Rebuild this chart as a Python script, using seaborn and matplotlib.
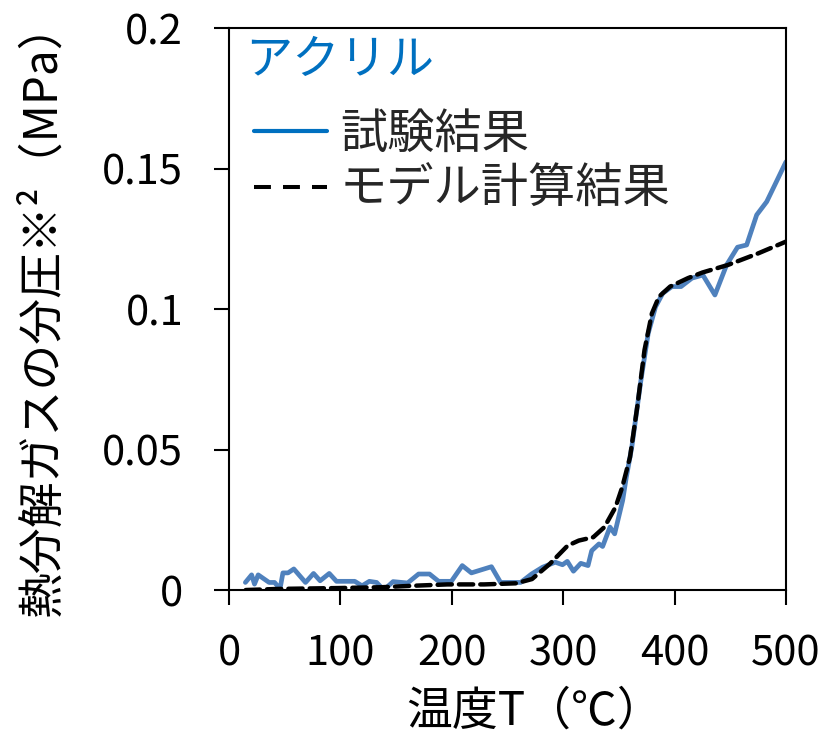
import matplotlib
matplotlib.use("Agg")
import matplotlib.pyplot as plt
from matplotlib.lines import Line2D
import seaborn as sns
import pandas as pd

# Measured partial pressure of pyrolysis gas (acrylic)
temp_test = [14.7, 20.3, 22.9, 26.2, 36, 40.9, 45.8, 48.4, 53, 58.2,
             68.7, 75.9, 81.8, 90, 96.5, 112.9, 119.4, 126, 132.5, 139,
             147.3, 160.3, 170.2, 180, 188.2, 199.6, 209.4, 217.6, 235.6, 243.8,
             261.8, 271.6, 281.4, 292.9, 299.4, 303.7, 309.2, 315.8, 322.3, 325.6,
             332.1, 335.4, 342, 346.2, 353.4, 356.7, 361.6, 369.8, 376.3, 382.9,
             389.4, 397.6, 405.8, 415.6, 425.4, 436.2, 446.7, 456.5, 464.7, 473.7,
             482.7, 491, 500]
p_test = [0.0027, 0.0054, 0.0021, 0.0054, 0.0027, 0.0027, 0.0004, 0.0061, 0.0061, 0.0075,
          0.0027, 0.0059, 0.0033, 0.0059, 0.0031, 0.0031, 0.0015, 0.0031, 0.0027, 0.0,
          0.0030, 0.0025, 0.0057, 0.0057, 0.0031, 0.0031, 0.0087, 0.0061, 0.0083, 0.0027,
          0.0027, 0.0057, 0.0081, 0.0099, 0.0090, 0.0102, 0.0067, 0.0095, 0.0087, 0.0140,
          0.0164, 0.0155, 0.0224, 0.0200, 0.0319, 0.0402, 0.0509, 0.0747, 0.0913, 0.1008,
          0.1056, 0.1080, 0.1080, 0.1110, 0.1121, 0.1050, 0.1157, 0.1220, 0.1228, 0.1335,
          0.1382, 0.1450, 0.1524]

# Model calculation
temp_model = [15, 45, 98, 137, 164, 196, 229, 258, 272, 288,
              304, 314, 327, 337, 347, 353, 360, 366.5, 373, 379.6,
              386, 396, 412, 425, 448, 475, 500]
p_model = [0.0, 0.0004, 0.0007, 0.001, 0.0015, 0.002, 0.002, 0.0024, 0.0039, 0.0093,
           0.0158, 0.0176, 0.0188, 0.0224, 0.0295, 0.0366, 0.0473, 0.0652, 0.0854, 0.0984,
           0.1044, 0.1080, 0.1110, 0.1130, 0.1157, 0.1198, 0.1240]

x_ticks = [0, 100, 200, 300, 400, 500]
y_ticks = [0, 0.05, 0.1, 0.15, 0.2]
y_tick_labels = ["0", "0.05", "0.1", "0.15", "0.2"]

material = "アクリル"
label_test = "試験結果"
label_model = "モデル計算結果"
x_label = "温度T（℃）"
y_label = "熱分解ガスの分圧※²（MPa）"

sns.set_theme(style="white")
plt.rcParams["font.family"] = ["Noto Sans CJK JP", "DejaVu Sans"]

fig = plt.figure(figsize=(8.27, 7.38), dpi=100)
ax = fig.add_axes([0.2769, 0.2005, 0.9504 - 0.2769, 0.962 - 0.2005])

df_test = pd.DataFrame({"T": temp_test, "P": p_test})
df_model = pd.DataFrame({"T": temp_model, "P": p_model})

sns.lineplot(data=df_test, x="T", y="P", ax=ax, color="#4F81BD", lw=3.4,
             sort=False, zorder=2)
sns.lineplot(data=df_model, x="T", y="P", ax=ax, color="black", lw=3.2,
             sort=False, zorder=3)
ax.lines[-1].set_dashes((3.2, 1.6))
ax.lines[-1].set_dash_capstyle("round")

ax.set_xlim(0, 500)
ax.set_ylim(0, 0.2)
ax.set_xticks(x_ticks)
ax.set_xticklabels([str(t) for t in x_ticks])
ax.set_yticks(y_ticks)
ax.set_yticklabels(y_tick_labels)

for s in ax.spines.values():
    s.set_color("black")
    s.set_linewidth(1.5)
    s.set_visible(True)

ax.tick_params(axis="both", which="major", direction="out", length=11, width=1.5,
               color="black", labelsize=30, labelcolor="black")
ax.tick_params(axis="x", pad=20, bottom=True)
ax.tick_params(axis="y", pad=22, left=True)

ax.set_xlabel(x_label, fontsize=33, color="black")
ax.set_ylabel(y_label, fontsize=33, color="black")
ax.xaxis.set_label_coords(0.549, -0.172)
ax.yaxis.set_label_coords(-0.292, 0.50)

# Material name above the legend entries
ax.text(0.029, 0.985, material, transform=ax.transAxes, ha="left", va="top",
        fontsize=34, color="#0070C0")

handles = [
    Line2D([], [], color="#0070C0", lw=3.0),
    Line2D([], [], color="black", lw=2.9, dashes=(4.2, 3.0)),
]
leg = ax.legend(handles, [label_test, label_model],
                loc="upper left", bbox_to_anchor=(0.044, 0.854),
                frameon=False, fontsize=34, handlelength=1.55,
                handletextpad=0.28, labelspacing=0.15,
                borderaxespad=0.0, borderpad=0.0)

fig.savefig("out.png", dpi=100, facecolor="white")
